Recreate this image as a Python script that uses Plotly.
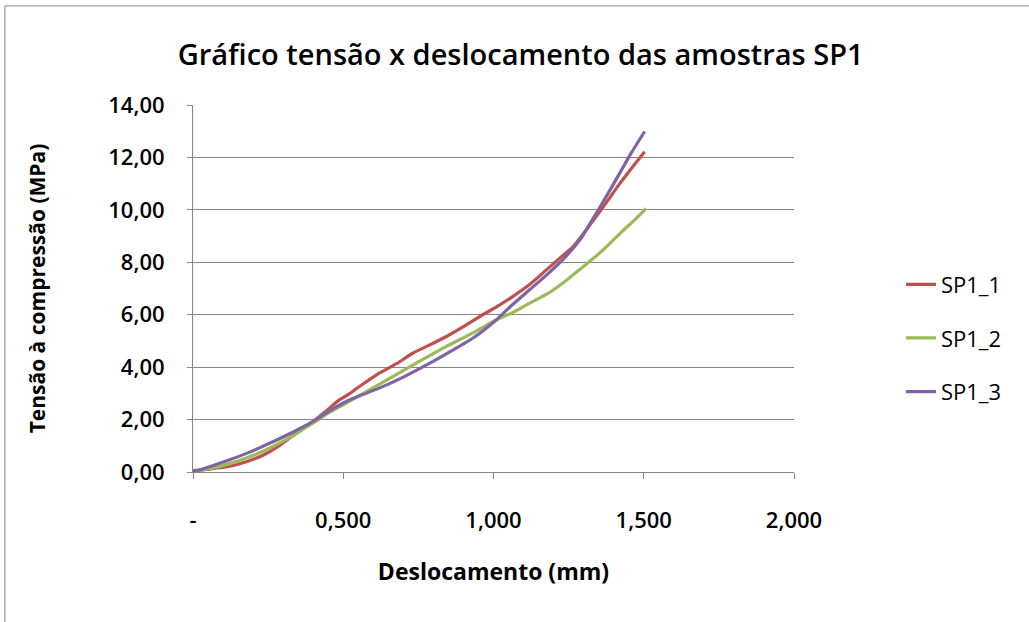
import plotly.graph_objects as go

# Displacement (mm) and compressive stress (MPa) for each SP1 specimen
sp1_1_x = [0.0, 0.06, 0.122, 0.18, 0.233, 0.28, 0.322, 0.36, 0.40, 0.445, 0.488, 0.52, 0.555, 0.62, 0.68, 0.732, 0.79, 0.843, 0.90, 0.954, 1.01, 1.065, 1.12, 1.176, 1.22, 1.265, 1.30, 1.342, 1.38, 1.42, 1.46, 1.503]
sp1_1_y = [0.05, 0.12, 0.22, 0.40, 0.64, 0.95, 1.30, 1.60, 1.93, 2.35, 2.76, 2.98, 3.27, 3.77, 4.15, 4.54, 4.86, 5.17, 5.55, 5.93, 6.30, 6.70, 7.15, 7.71, 8.15, 8.60, 9.10, 9.75, 10.35, 11.0, 11.6, 12.22]

sp1_2_x = [0.0, 0.06, 0.122, 0.18, 0.233, 0.32, 0.40, 0.45, 0.51, 0.59, 0.666, 0.75, 0.843, 0.93, 1.01, 1.07, 1.12, 1.18, 1.23, 1.29, 1.353, 1.39, 1.43, 1.47, 1.508]
sp1_2_y = [0.0, 0.14, 0.32, 0.54, 0.79, 1.30, 1.87, 2.25, 2.63, 3.15, 3.65, 4.20, 4.79, 5.30, 5.81, 6.12, 6.44, 6.80, 7.20, 7.75, 8.35, 8.75, 9.20, 9.62, 10.06]

sp1_3_x = [0.0, 0.06, 0.122, 0.18, 0.233, 0.32, 0.40, 0.45, 0.51, 0.56, 0.62, 0.70, 0.788, 0.86, 0.932, 1.01, 1.06, 1.12, 1.18, 1.23, 1.29, 1.342, 1.38, 1.42, 1.46, 1.503]
sp1_3_y = [0.0, 0.22, 0.47, 0.72, 0.98, 1.45, 1.93, 2.30, 2.69, 2.93, 3.20, 3.62, 4.15, 4.62, 5.11, 5.81, 6.35, 6.95, 7.55, 8.09, 8.90, 9.87, 10.60, 11.4, 12.2, 12.99]

series_names = ["SP1_1", "SP1_2", "SP1_3"]
series_colors = ["#C0504D", "#9BBB59", "#8064A2"]

x_tick_vals = [0, 0.5, 1.0, 1.5, 2.0]
x_tick_text = ["-", "0,500", "1,000", "1,500", "2,000"]
y_tick_vals = [0, 2, 4, 6, 8, 10, 12, 14]
y_tick_text = ["0,00", "2,00", "4,00", "6,00", "8,00", "10,00", "12,00", "14,00"]

FONT = "Open Sans, Noto Sans, sans-serif"

fig = go.Figure()
for name, xs, ys, color in zip(series_names,
                               [sp1_1_x, sp1_2_x, sp1_3_x],
                               [sp1_1_y, sp1_2_y, sp1_3_y],
                               series_colors):
    fig.add_trace(go.Scatter(
        x=xs, y=ys, mode="lines", name=name, legendgroup=name,
        line=dict(color=color, width=3.2, shape="spline", smoothing=0.5),
    ))

fig.update_layout(
    width=1029, height=622,
    margin=dict(l=193, r=235, t=105, b=150),
    paper_bgcolor="white", plot_bgcolor="white",
    font=dict(family=FONT, color="black"),
    title=dict(text="Gráfico tensão x deslocamento das amostras SP1",
               x=0.506, xanchor="center", y=0.912, yanchor="middle",
               font=dict(size=29, family=FONT, color="black", weight=600)),
    showlegend=True,
    legend=dict(x=1.178, xanchor="left", y=0.365, yanchor="middle",
                font=dict(size=22, family=FONT), tracegroupgap=22,
                bgcolor="rgba(0,0,0,0)"),
    shapes=[dict(type="rect", xref="paper", yref="paper",
                 x0=-0.313, x1=1.6, y0=-0.6, y1=1.27,
                 line=dict(color="#8a8a8a", width=1), layer="below")],
)

fig.update_xaxes(
    range=[0, 2.0], tickvals=x_tick_vals, ticktext=x_tick_text,
    showgrid=False, zeroline=False,
    showline=True, linecolor="#868686", linewidth=1,
    ticks="outside", ticklen=6, tickcolor="#868686",
    ticklabelstandoff=23,
    tickfont=dict(size=22, family=FONT, color="black", weight=600),
    title=dict(text="<b>Deslocamento (mm)</b>", standoff=30,
               font=dict(size=23, family=FONT, color="black")),
)
fig.update_yaxes(
    range=[0, 14], tickvals=y_tick_vals, ticktext=y_tick_text,
    showgrid=True, gridcolor="#868686", gridwidth=1, zeroline=False,
    showline=True, linecolor="#868686", linewidth=1,
    ticks="outside", ticklen=5, tickcolor="#868686",
    ticklabelstandoff=18,
    tickfont=dict(size=22, family=FONT, color="black", weight=600),
    title=dict(text="<b>Tensão à compressão (MPa)</b>", standoff=56,
               font=dict(size=21, family=FONT, color="black")),
)

fig.write_html("out.html")
